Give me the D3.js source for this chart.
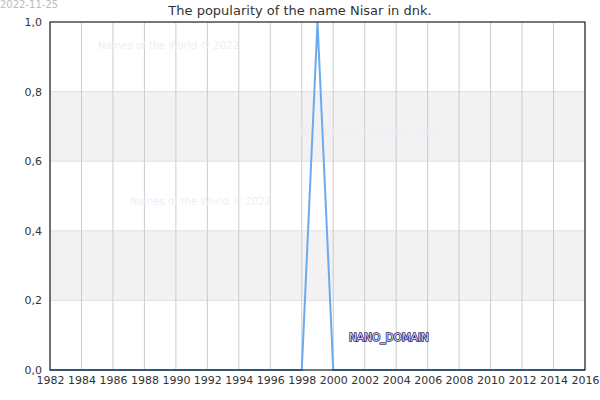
<!DOCTYPE html><html><head><script src="https://cdn.jsdelivr.net/npm/d3@7"></script>
<style>body{margin:0;background:#fff}text{font-family:"DejaVu Sans",sans-serif}</style></head><body>
<script>
const years=d3.range(1982,2017);
const values=[0,0,0,0,0,0,0,0,0,0,0,0,0,0,0,0,0,1,0,0,0,0,0,0,0,0,0,0,0,0,0,0,0,0,0];
const yTicks=[0,0.2,0.4,0.6,0.8,1.0];
const xTicks=d3.range(1982,2017,2);
const W=600,H=400,m={l:50,r:15,t:22,b:30};
const svg=d3.select("body").append("svg").attr("width",W).attr("height",H);
const x=d3.scaleLinear().domain([1982,2016]).range([m.l,W-m.r]);
const y=d3.scaleLinear().domain([0,1]).range([H-m.b,m.t]);
[[0.2,0.4],[0.6,0.8]].forEach(b=>svg.append("rect").attr("x",x(1982)).attr("width",x(2016)-x(1982)).attr("y",y(b[1])).attr("height",y(b[0])-y(b[1])).attr("fill","#f2f2f2"));
yTicks.forEach(t=>svg.append("line").attr("x1",x(1982)).attr("x2",x(2016)).attr("y1",y(t)).attr("y2",y(t)).attr("stroke","#e0e0e0"));
xTicks.forEach(t=>svg.append("line").attr("x1",x(t)).attr("x2",x(t)).attr("y1",y(0)).attr("y2",y(1)).attr("stroke","#ccc"));
[[98,49],[300,135],[130,205]].forEach(p=>svg.append("text").attr("x",p[0]).attr("y",p[1]).attr("fill","#eeeefa").attr("font-size",10).text("Names of the World © 2022"));
svg.append("path").datum(values).attr("fill","none").attr("stroke","#6aaaee").attr("stroke-width",2)
 .attr("d",d3.line().x((d,i)=>x(years[i])).y(d=>y(d)));
svg.append("rect").attr("x",x(1982)).attr("y",y(1)).attr("width",x(2016)-x(1982)).attr("height",y(0)-y(1)).attr("fill","none").attr("stroke","#000");
const ya=svg.append("g").attr("transform",`translate(${m.l},0)`).call(d3.axisLeft(y).tickValues(yTicks).tickSize(0).tickPadding(8).tickFormat(d=>d3.format(".1f")(d).replace(".",",")));
const xa=svg.append("g").attr("transform",`translate(0,${H-m.b})`).call(d3.axisBottom(x).tickValues(xTicks).tickSize(0).tickPadding(6).tickFormat(d3.format("d")));
[ya,xa].forEach(a=>{a.select(".domain").remove();a.selectAll("text").attr("font-size",11).attr("fill","#333").style("font-family","DejaVu Sans");});
svg.append("text").attr("x",300).attr("y",15).attr("text-anchor","middle").attr("font-size",13).attr("fill","#333").text("The popularity of the name Nisar in dnk.");
svg.append("text").attr("x",0).attr("y",8).attr("font-size",10).attr("fill","#bbb").text("2022-11-25");
svg.append("text").attr("x",349).attr("y",341).attr("font-size",10.5).attr("fill","#d8d4f0").attr("stroke","#2e1f5e").attr("stroke-width",1.5).attr("paint-order","stroke").text("NANO_DOMAIN");
</script></body></html>
